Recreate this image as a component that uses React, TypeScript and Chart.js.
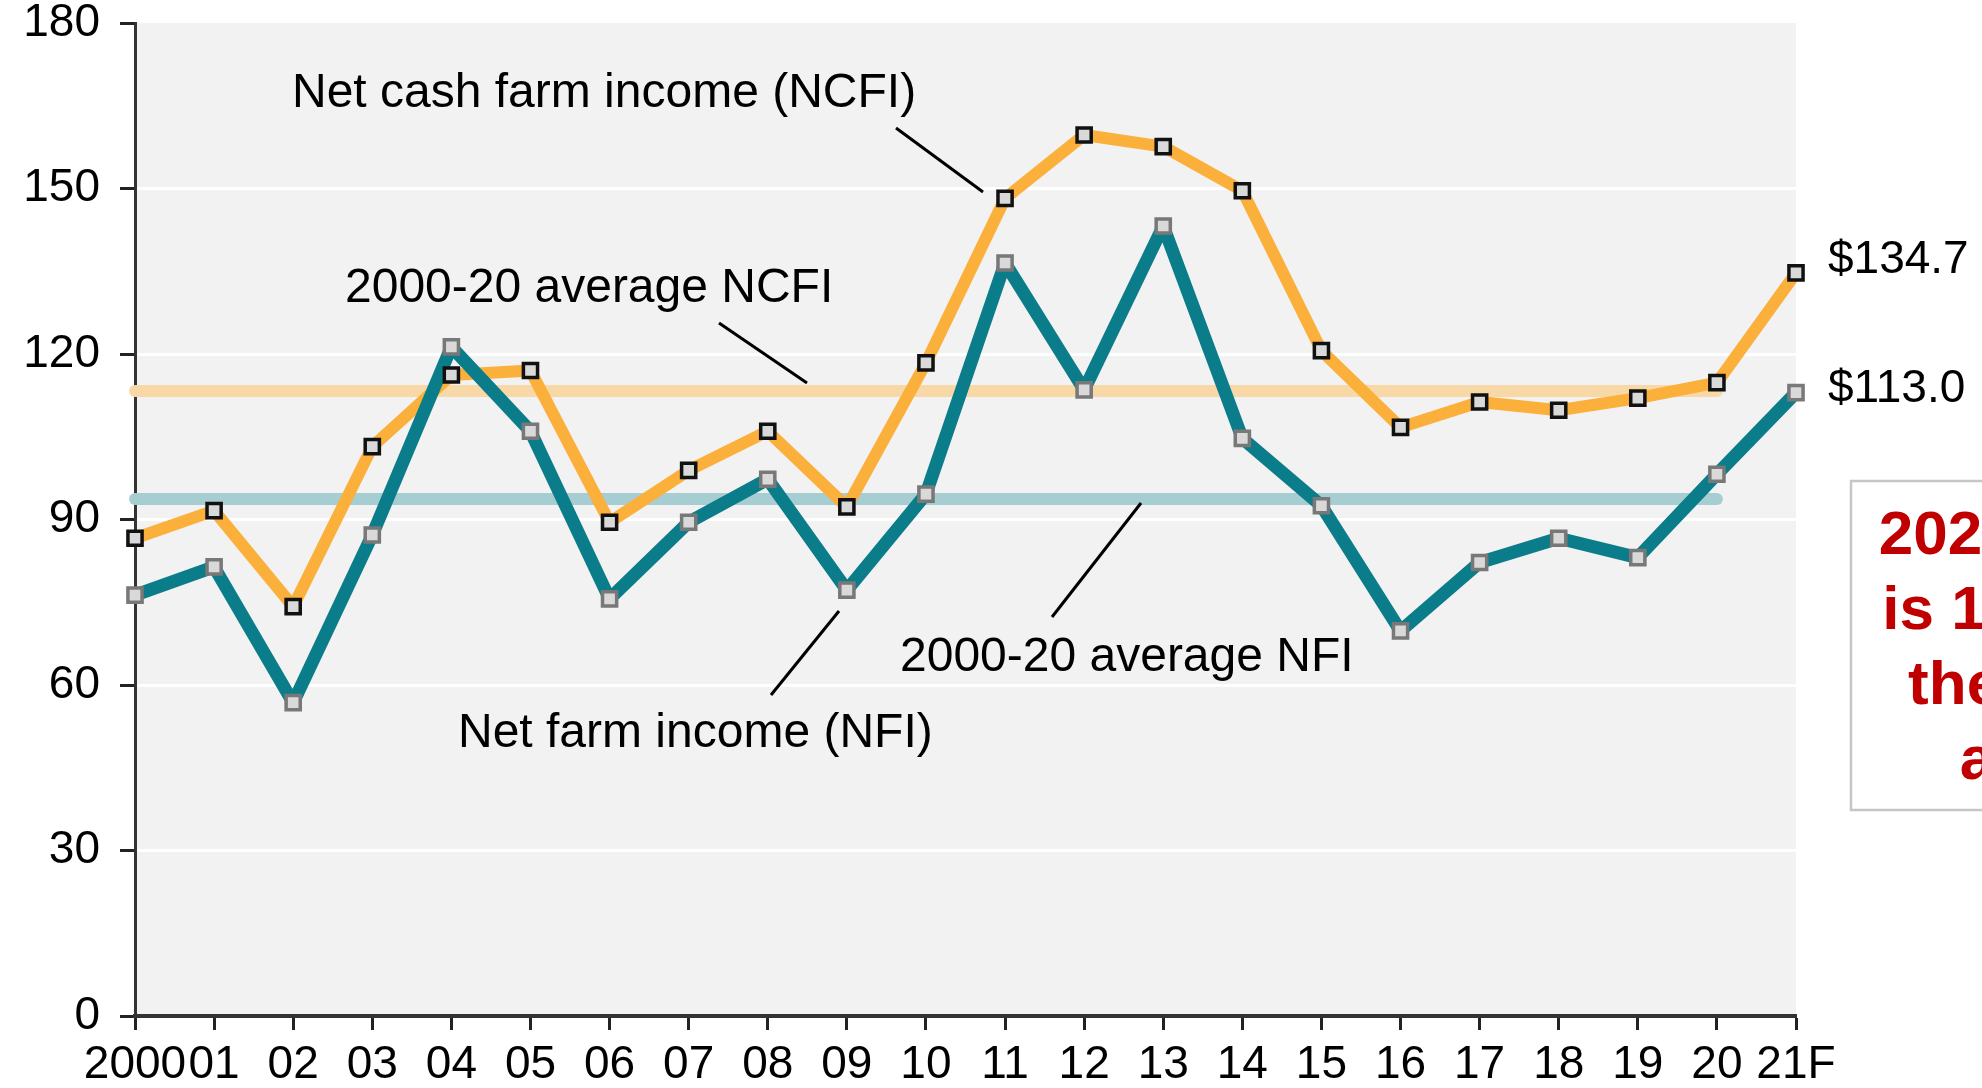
import React, { useEffect, useRef } from 'react';
import { Chart, registerables } from 'chart.js';

Chart.register(...registerables);

const years = ['2000', '01', '02', '03', '04', '05', '06', '07', '08', '09', '10', '11', '12', '13', '14', '15', '16', '17', '18', '19', '20', '21F'];
const ncfi = [86.6, 91.6, 74.2, 103.2, 116.2, 117.0, 89.5, 98.9, 106.0, 92.3, 118.4, 148.2, 159.7, 157.6, 149.6, 120.6, 106.7, 111.3, 109.8, 112.0, 114.8, 134.7];
const nfi = [76.3, 81.4, 56.8, 87.2, 121.3, 106.0, 75.6, 89.5, 97.3, 77.2, 94.6, 136.5, 113.5, 143.2, 104.7, 92.5, 69.8, 82.2, 86.6, 83.1, 98.2, 113.0];
const ncfiAvg = 113.3;
const nfiAvg = 93.7;
const avgYears = 21; // 2000-20
const yMin = 0;
const yMax = 180;
const yStep = 30;

const ncfiLabel = '$134.7';
const nfiLabel = '$113.0';
const boxLines = ['2021 forecast', 'is 19% above', 'the 2000-20', 'average'];

const FONT = "'Liberation Sans', Arial, Helvetica, sans-serif";

const annotations = [
  { text: 'Net cash farm income (NCFI)', x: 292, y: 107, line: [896, 128, 983, 192] },
  { text: '2000-20 average NCFI', x: 345, y: 302, line: [719, 323, 807, 383] },
  { text: 'Net farm income (NFI)', x: 458, y: 747, line: [771, 695, 839, 611] },
  { text: '2000-20 average NFI', x: 900, y: 671, line: [1052, 617, 1141, 503] },
];

const bgPlugin = {
  id: 'plotBg',
  beforeDraw(chart: any) {
    const { ctx, chartArea: a } = chart;
    ctx.save();
    ctx.fillStyle = '#f2f2f2';
    ctx.fillRect(a.left + 2, a.top, a.right - a.left - 2, a.bottom - a.top);
    ctx.restore();
  },
};

const annoPlugin = {
  id: 'annos',
  afterDraw(chart: any) {
    const { ctx } = chart;
    ctx.save();
    ctx.fillStyle = '#000';
    ctx.strokeStyle = '#000';
    ctx.lineWidth = 3;
    ctx.textBaseline = 'alphabetic';
    ctx.textAlign = 'left';
    ctx.font = `48px ${FONT}`;
    for (const a of annotations) {
      ctx.fillText(a.text, a.x, a.y);
      ctx.beginPath();
      ctx.moveTo(a.line[0], a.line[1]);
      ctx.lineTo(a.line[2], a.line[3]);
      ctx.stroke();
    }
    ctx.font = `46px ${FONT}`;
    ctx.fillText(ncfiLabel, 1828, 273);
    ctx.fillText(nfiLabel, 1828, 402);
    ctx.fillStyle = '#ffffff';
    ctx.fillRect(1851, 481, 600, 329);
    ctx.strokeStyle = '#c6c6c6';
    ctx.lineWidth = 2.5;
    ctx.strokeRect(1851, 481, 600, 329);
    ctx.fillStyle = '#C00000';
    ctx.font = `bold 62px ${FONT}`;
    ctx.textAlign = 'center';
    const cx = 2077;
    boxLines.forEach((t, i) => ctx.fillText(t, cx, 554 + i * 75));
    ctx.restore();
  },
};

export default function App() {
  const ref = useRef<HTMLCanvasElement>(null);
  useEffect(() => {
    if (!ref.current) return;
    const avgN = years.map((_, i) => (i < avgYears ? ncfiAvg : null));
    const avgF = years.map((_, i) => (i < avgYears ? nfiAvg : null));
    const chart = new Chart(ref.current, {
      type: 'line',
      data: {
        labels: years,
        datasets: [
          { label: 'avg NCFI', data: avgN, borderColor: 'rgb(248,216,166)', borderWidth: 12, borderCapStyle: 'round', pointRadius: 0, order: 6, clip: false },
          { label: 'avg NFI', data: avgF, borderColor: 'rgb(166,206,210)', borderWidth: 12, borderCapStyle: 'round', pointRadius: 0, order: 5, clip: false },
          { label: 'NCFI', data: ncfi, borderColor: '#FBB03B', borderWidth: 12, borderCapStyle: 'round', borderJoinStyle: 'round', pointRadius: 0, order: 4, clip: false },
          { label: 'NFI', data: nfi, borderColor: '#0B7D8A', borderWidth: 13, borderCapStyle: 'round', borderJoinStyle: 'round', pointRadius: 0, order: 3, clip: false },
          { label: 'NCFI pts', data: ncfi, showLine: false, pointStyle: 'rect', pointRadius: 10, pointBackgroundColor: '#d9d9d9', pointBorderColor: '#111111', pointBorderWidth: 3.5, order: 2, clip: false },
          { label: 'NFI pts', data: nfi, showLine: false, pointStyle: 'rect', pointRadius: 10, pointBackgroundColor: '#d9d9d9', pointBorderColor: '#787878', pointBorderWidth: 3.5, order: 1, clip: false },
        ] as any,
      },
      options: {
        responsive: false,
        animation: false,
        devicePixelRatio: 1,
        layout: { padding: { left: 0, right: 186, top: 23, bottom: 0 } },
        plugins: { legend: { display: false }, tooltip: { enabled: false } },
        scales: {
          x: {
            type: 'category',
            offset: false,
            grid: { drawOnChartArea: false, drawTicks: true, tickLength: 14, tickWidth: 3, tickColor: '#222', color: '#222' },
            border: { display: true, color: '#333', width: 4 },
            ticks: { autoSkip: false, maxRotation: 0, minRotation: 0, padding: 8, color: '#000', font: { family: FONT, size: 46 } },
            afterFit(s: any) { s.height = 72; s.paddingLeft = 0; s.paddingRight = 0; },
          },
          y: {
            min: yMin,
            max: yMax,
            ticks: { stepSize: yStep, padding: 20, color: '#000', font: { family: FONT, size: 46, lineHeight: 1 } },
            grid: {
              color: (c: any) => (c.tick && (c.tick.value === yMin || c.tick.value === yMax) ? 'rgba(0,0,0,0)' : '#ffffff'),
              lineWidth: 3,
              tickColor: '#222',
              tickLength: 15,
              tickWidth: 3,
            },
            border: { display: true, color: '#333', width: 3 },
            afterFit(s: any) { s.width = 135; s.paddingTop = 0; s.paddingBottom = 0; },
          },
        },
      } as any,
      plugins: [bgPlugin, annoPlugin],
    });
    return () => chart.destroy();
  }, []);
  return (
    <div style={{ position: 'absolute', left: 0, top: 0, width: 1982, height: 1088, background: '#fff' }}>
      <canvas ref={ref} width={1982} height={1088} style={{ display: 'block' }} />
    </div>
  );
}
